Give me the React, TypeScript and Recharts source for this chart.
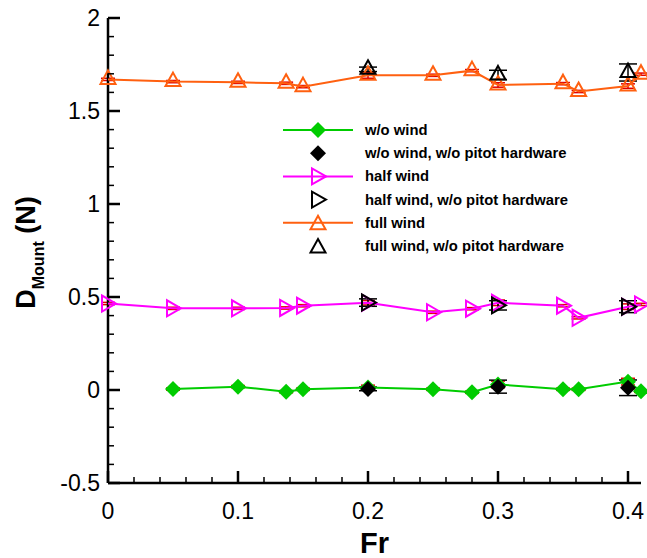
import React from 'react';
import { ComposedChart, Scatter, XAxis, YAxis, ErrorBar, Legend } from 'recharts';

// ---------- data ----------
const frAll = [0, 0.05, 0.1, 0.137, 0.15, 0.2, 0.25, 0.28, 0.3, 0.35, 0.362, 0.4, 0.41];
const frNoWind = [0.05, 0.1, 0.137, 0.15, 0.2, 0.25, 0.28, 0.3, 0.35, 0.362, 0.4, 0.41];
const frPitot = [0.2, 0.3, 0.4];

const noWind = [0.005, 0.018, -0.009, 0.004, 0.014, 0.004, -0.012, 0.03, 0.004, 0.004, 0.045, -0.007];
const noWindErr = [0.006, 0.006, 0.006, 0.006, 0.012, 0.006, 0.006, 0.018, 0.006, 0.006, 0.018, 0.006];
const halfWind = [0.465, 0.439, 0.439, 0.441, 0.453, 0.469, 0.418, 0.437, 0.469, 0.453, 0.388, 0.448, 0.46];
const halfWindErr = [0.006, 0.006, 0.006, 0.006, 0.006, 0.012, 0.006, 0.006, 0.015, 0.006, 0.006, 0.015, 0.006];
const fullWind = [1.67, 1.658, 1.654, 1.649, 1.631, 1.692, 1.692, 1.717, 1.64, 1.647, 1.605, 1.634, 1.698];
const fullWindErr = [0.006, 0.006, 0.006, 0.006, 0.006, 0.016, 0.006, 0.006, 0.012, 0.006, 0.006, 0.012, 0.006];

const noWindPitot = [0.006, 0.018, 0.012];
const noWindPitotErr = [0.01, 0.035, 0.042];
const halfWindPitot = [0.47, 0.455, 0.448];
const halfWindPitotErr = [0.02, 0.025, 0.032];
const fullWindPitot = [1.724, 1.694, 1.707];
const fullWindPitotErr = [0.012, 0.025, 0.046];

const xMajorTicks = [0, 0.1, 0.2, 0.3, 0.4];
const xTicks = [0, 0.02, 0.04, 0.06, 0.08, 0.1, 0.12, 0.14, 0.16, 0.18, 0.2, 0.22, 0.24, 0.26, 0.28, 0.3, 0.32, 0.34, 0.36, 0.38, 0.4];
const yMajorTicks = [-0.5, 0, 0.5, 1, 1.5, 2];
const yTicks = [-0.5, -0.4, -0.3, -0.2, -0.1, 0, 0.1, 0.2, 0.3, 0.4, 0.5, 0.6, 0.7, 0.8, 0.9, 1, 1.1, 1.2, 1.3, 1.4, 1.5, 1.6, 1.7, 1.8, 1.9, 2];

const seriesNames = [
  'w/o wind',
  'w/o wind, w/o pitot hardware',
  'half wind',
  'half wind, w/o pitot hardware',
  'full wind',
  'full wind, w/o pitot hardware',
];

const GREEN = '#00cc00';
const MAGENTA = '#ff00ff';
const ORANGE = '#ff6010';
const BLACK = '#000000';
const RED = '#e00000';
const FONT = '"Liberation Sans", Arial, Helvetica, sans-serif';

const toPoints = (xs: number[], ys: number[], errs: number[]) =>
  xs.map((x, i) => ({ x, y: ys[i], err: errs[i] }));

const noWindData = toPoints(frNoWind, noWind, noWindErr);
const halfWindData = toPoints(frAll, halfWind, halfWindErr);
const fullWindData = toPoints(frAll, fullWind, fullWindErr);
const noWindPitotData = toPoints(frPitot, noWindPitot, noWindPitotErr);
const halfWindPitotData = toPoints(frPitot, halfWindPitot, halfWindPitotErr);
const fullWindPitotData = toPoints(frPitot, fullWindPitot, fullWindPitotErr);

// ---------- markers ----------
const Diamond = ({ cx, cy, fill }: any) => (
  <path d={`M${cx},${cy - 8}L${cx + 8},${cy}L${cx},${cy + 8}L${cx - 8},${cy}Z`} fill={fill} stroke="none" />
);
const TriUp = ({ cx, cy, stroke }: any) => (
  <path
    d={`M${cx},${cy - 9}L${cx + 7.5},${cy + 4.5}L${cx - 7.5},${cy + 4.5}Z`}
    fill="none"
    stroke={stroke}
    strokeWidth={2}
    strokeLinejoin="miter"
  />
);
const TriRight = ({ cx, cy, stroke }: any) => (
  <path
    d={`M${cx + 8},${cy}L${cx - 6},${cy - 8}L${cx - 6},${cy + 8}Z`}
    fill="none"
    stroke={stroke}
    strokeWidth={2}
  />
);

const isIn = (arr: number[], v: number) => arr.some((m) => Math.abs(m - v) < 1e-9);

const XTick = (props: any) => {
  const { x, y, payload } = props;
  const v = payload.value;
  const major = isIn(xMajorTicks, v);
  return (
    <g>
      <line x1={x} x2={x} y1={y} y2={y - (major ? 12 : 6)} stroke="#000" strokeWidth={major ? 2.5 : 1.5} />
      {major && (
        <text x={x} y={y + 36} textAnchor="middle" fontSize={23} fontFamily={FONT} fill="#000">
          {String(v)}
        </text>
      )}
    </g>
  );
};

const YTick = (props: any) => {
  const { x, y, payload } = props;
  const v = payload.value;
  const major = isIn(yMajorTicks, v);
  return (
    <g>
      <line x1={x} x2={x + (major ? 12 : 6)} y1={y} y2={y} stroke="#000" strokeWidth={major ? 2.5 : 1.5} />
      {major && (
        <text x={x - 8} y={y + 8} textAnchor="end" fontSize={23} fontFamily={FONT} fill="#000">
          {String(v)}
        </text>
      )}
    </g>
  );
};

const XTitle = (props: any) => {
  const vb = props.viewBox || { x: 108, y: 483, width: 533, height: 75 };
  return (
    <text x={vb.x + vb.width / 2} y={vb.y + 70} textAnchor="middle" fontSize={29} fontWeight="bold" fontFamily={FONT} fill="#000">
      Fr
    </text>
  );
};

const YTitle = (props: any) => {
  const vb = props.viewBox || { x: 0, y: 18, width: 108, height: 465 };
  const bx = vb.x + 35;
  const cy = vb.y + vb.height / 2 + 2;
  return (
    <text
      x={bx}
      y={cy}
      transform={`rotate(-90, ${bx}, ${cy})`}
      textAnchor="middle"
      fontSize={27}
      fontWeight="bold"
      fontFamily={FONT}
      fill="#000"
    >
      D
      <tspan fontSize={16} dy={9}>Mount</tspan>
      <tspan dy={-9}> (N)</tspan>
    </text>
  );
};

const legendItems = [
  { name: seriesNames[0], color: GREEN, line: true, kind: 'diamond' },
  { name: seriesNames[1], color: BLACK, line: false, kind: 'diamond' },
  { name: seriesNames[2], color: MAGENTA, line: true, kind: 'right' },
  { name: seriesNames[3], color: BLACK, line: false, kind: 'right' },
  { name: seriesNames[4], color: ORANGE, line: true, kind: 'up' },
  { name: seriesNames[5], color: BLACK, line: false, kind: 'up' },
];

const LegendBox = () => (
  <svg width={340} height={145} style={{ display: 'block' }}>
    {legendItems.map((it, i) => {
      const cy = 15 + i * 23.2;
      const mx = 48;
      let marker;
      if (it.kind === 'diamond') marker = <Diamond cx={mx} cy={cy} fill={it.color} />;
      else if (it.kind === 'right') marker = <TriRight cx={mx} cy={cy} stroke={it.color} />;
      else marker = <TriUp cx={mx} cy={cy + 2} stroke={it.color} />;
      return (
        <g key={i}>
          {it.line && <line x1={13} x2={83} y1={cy} y2={cy} stroke={it.color} strokeWidth={2} />}
          {marker}
          <text x={95} y={cy + 5} fontSize={14.8} fontWeight="bold" fontFamily={FONT} fill="#000">
            {it.name}
          </text>
        </g>
      );
    })}
  </svg>
);

export default function App() {
  return (
    <div style={{ position: 'absolute', left: 0, top: 0, background: '#fff' }}>
      <ComposedChart width={647} height={558} margin={{ top: 18, right: 6, bottom: 0, left: 0 }}>
        <XAxis
          type="number"
          dataKey="x"
          domain={[0, 0.41]}
          ticks={xTicks}
          interval={0}
          tickSize={0}
          tickMargin={0}
          tick={<XTick />}
          height={75}
          axisLine={{ stroke: '#000', strokeWidth: 2.5 }}
          tickLine={false}
          label={<XTitle />}
        />
        <YAxis
          type="number"
          dataKey="y"
          domain={[-0.5, 2]}
          ticks={yTicks}
          interval={0}
          tickSize={0}
          tickMargin={0}
          tick={<YTick />}
          width={108}
          axisLine={{ stroke: '#000', strokeWidth: 2.5 }}
          tickLine={false}
          label={<YTitle />}
        />
        <Legend
          layout="vertical"
          align="center"
          verticalAlign="middle"
          wrapperStyle={{ position: 'absolute', left: 270, top: 115, width: 340, height: 145 }}
          content={() => <LegendBox />}
        />
        <Scatter
          name={seriesNames[0]}
          data={noWindData}
          fill={GREEN}
          line={{ stroke: GREEN, strokeWidth: 2 }}
          shape={(p: any) => <Diamond cx={p.cx} cy={p.cy} fill={GREEN} />}
          isAnimationActive={false}
        >
          <ErrorBar dataKey="err" direction="y" width={7} stroke={RED} strokeWidth={1.5} />
        </Scatter>
        <Scatter
          name={seriesNames[2]}
          data={halfWindData}
          fill={MAGENTA}
          line={{ stroke: MAGENTA, strokeWidth: 2 }}
          shape={(p: any) => <TriRight cx={p.cx} cy={p.cy} stroke={MAGENTA} />}
          isAnimationActive={false}
        >
          <ErrorBar dataKey="err" direction="y" width={7} stroke={RED} strokeWidth={1.5} />
        </Scatter>
        <Scatter
          name={seriesNames[4]}
          data={fullWindData}
          fill={ORANGE}
          line={{ stroke: ORANGE, strokeWidth: 2 }}
          shape={(p: any) => <TriUp cx={p.cx} cy={p.cy} stroke={ORANGE} />}
          isAnimationActive={false}
        >
          <ErrorBar dataKey="err" direction="y" width={7} stroke={RED} strokeWidth={1.5} />
        </Scatter>
        <Scatter
          name={seriesNames[1]}
          data={noWindPitotData}
          fill={BLACK}
          shape={(p: any) => <Diamond cx={p.cx} cy={p.cy} fill={BLACK} />}
          isAnimationActive={false}
        >
          <ErrorBar dataKey="err" direction="y" width={9} stroke={BLACK} strokeWidth={1.5} />
        </Scatter>
        <Scatter
          name={seriesNames[3]}
          data={halfWindPitotData}
          fill={BLACK}
          shape={(p: any) => <TriRight cx={p.cx} cy={p.cy} stroke={BLACK} />}
          isAnimationActive={false}
        >
          <ErrorBar dataKey="err" direction="y" width={9} stroke={BLACK} strokeWidth={1.5} />
        </Scatter>
        <Scatter
          name={seriesNames[5]}
          data={fullWindPitotData}
          fill={BLACK}
          shape={(p: any) => <TriUp cx={p.cx} cy={p.cy} stroke={BLACK} />}
          isAnimationActive={false}
        >
          <ErrorBar dataKey="err" direction="y" width={9} stroke={BLACK} strokeWidth={1.5} />
        </Scatter>
      </ComposedChart>
    </div>
  );
}
